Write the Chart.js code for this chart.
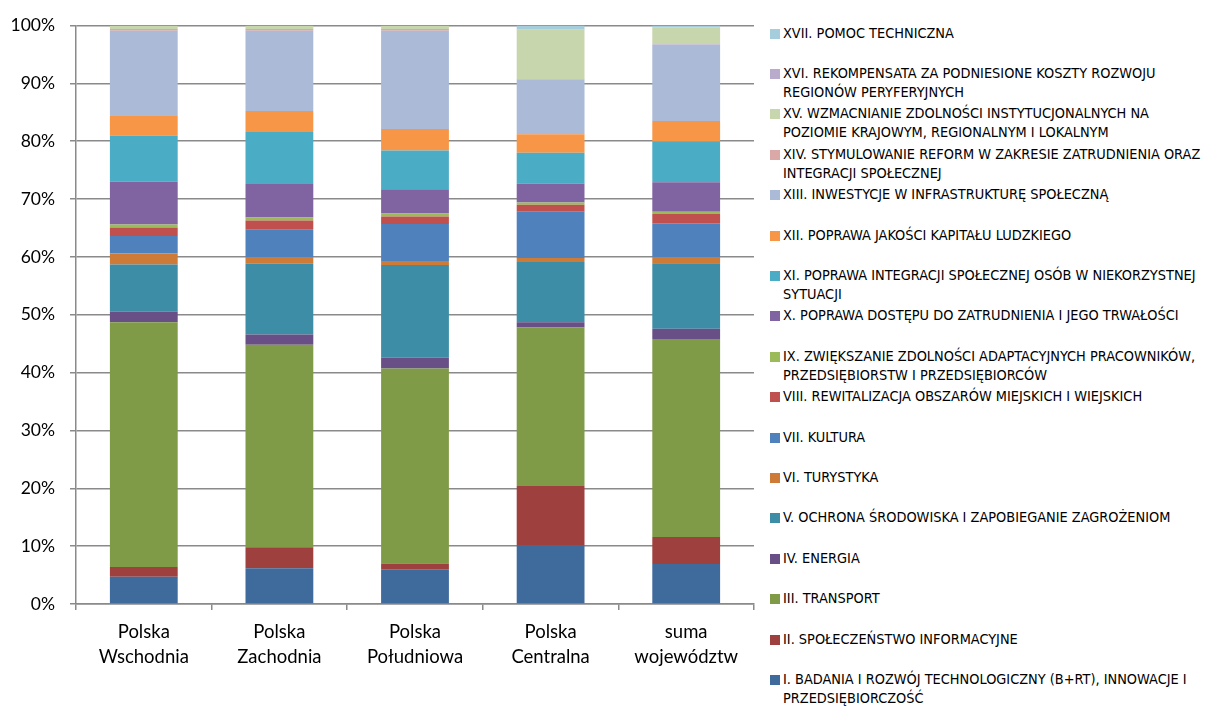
<!DOCTYPE html>
<html lang="pl">
<head>
<meta charset="utf-8">
<title>Struktura alokacji według priorytetów</title>
<script src="https://cdn.jsdelivr.net/npm/chart.js@4/dist/chart.umd.min.js"></script>
<style>
  html, body { margin: 0; padding: 0; background: #fff; }
  #wrap { position: relative; width: 1209px; height: 707px; overflow: hidden; }
  #chartBox { position: absolute; left: 0; top: 0; width: 760px; height: 707px; }
  #legend { position: absolute; left: 770px; top: 0; width: 439px; }
  .item { position: absolute; left: 0; display: flex; align-items: flex-start; }
  .swatch { width: 10px; height: 10px; margin-top: 5px; flex: none; }
  .text {
    margin-left: 3px; font-family: "Liberation Sans Narrow", "DejaVu Sans Condensed", Lato, sans-serif;
    font-size: 14.4px; line-height: 19px; color: #000; white-space: nowrap;
  }
</style>
</head>
<body>
<div id="wrap">
  <div id="chartBox"><canvas id="chart"></canvas></div>
  <div id="legend"></div>
</div>
<script>
// regions on the x axis
const categories = [
  ['Polska', 'Wschodnia'],
  ['Polska', 'Zachodnia'],
  ['Polska', 'Południowa'],
  ['Polska', 'Centralna'],
  ['suma', 'województw']
];

// priorities I..XVII (multi-line names as drawn in the legend)
const priorities = [
  ['I. BADANIA I ROZWÓJ TECHNOLOGICZNY (B+RT), INNOWACJE I', 'PRZEDSIĘBIORCZOŚĆ'],
  ['II. SPOŁECZEŃSTWO INFORMACYJNE'],
  ['III. TRANSPORT'],
  ['IV. ENERGIA'],
  ['V. OCHRONA ŚRODOWISKA I ZAPOBIEGANIE ZAGROŻENIOM'],
  ['VI. TURYSTYKA'],
  ['VII. KULTURA'],
  ['VIII. REWITALIZACJA OBSZARÓW MIEJSKICH I WIEJSKICH'],
  ['IX. ZWIĘKSZANIE ZDOLNOŚCI ADAPTACYJNYCH PRACOWNIKÓW,', 'PRZEDSIĘBIORSTW I PRZEDSIĘBIORCÓW'],
  ['X. POPRAWA DOSTĘPU DO ZATRUDNIENIA I JEGO TRWAŁOŚCI'],
  ['XI. POPRAWA INTEGRACJI SPOŁECZNEJ OSÓB W NIEKORZYSTNEJ', 'SYTUACJI'],
  ['XII. POPRAWA JAKOŚCI KAPITAŁU LUDZKIEGO'],
  ['XIII. INWESTYCJE W INFRASTRUKTURĘ SPOŁECZNĄ'],
  ['XIV. STYMULOWANIE REFORM W ZAKRESIE ZATRUDNIENIA ORAZ', 'INTEGRACJI SPOŁECZNEJ'],
  ['XV. WZMACNIANIE ZDOLNOŚCI INSTYTUCJONALNYCH NA', 'POZIOMIE KRAJOWYM, REGIONALNYM I LOKALNYM'],
  ['XVI. REKOMPENSATA ZA PODNIESIONE KOSZTY ROZWOJU', 'REGIONÓW PERYFERYJNYCH'],
  ['XVII. POMOC TECHNICZNA']
];

const colors = [
  '#3f6a9c', '#9e413e', '#7f9b48', '#684f86', '#3c8da5', '#cd7b37',
  '#4f81bd', '#c0504d', '#9bbb59', '#8064a2', '#4bacc6', '#f79646',
  '#aabad7', '#dba8a8', '#c7d6ad', '#b8abcb', '#a5cddc'
];

// share of each priority (%), I..XVII, per region
const wschodnia  = [4.7, 1.7, 42.3, 1.8, 8.2, 1.9, 3.0, 1.5, 0.5, 7.4, 8.0, 3.5, 14.6, 0.3, 0.5, 0.05, 0.05];
const zachodnia  = [6.2, 3.6, 35.0, 1.8, 12.2, 1.2, 4.7, 1.6, 0.5, 5.8, 9.0, 3.6, 13.9, 0.3, 0.5, 0.05, 0.05];
const poludniowa = [6.0, 1.0, 33.7, 1.9, 16.0, 0.7, 6.4, 1.3, 0.5, 4.2, 6.7, 3.7, 17.0, 0.3, 0.5, 0.05, 0.05];
const centralna  = [10.2, 10.2, 27.4, 0.9, 10.4, 0.7, 8.0, 1.2, 0.4, 3.3, 5.3, 3.2, 9.4, 0.1, 8.6, 0.1, 0.6];
const suma       = [6.9, 4.7, 34.2, 1.8, 11.3, 1.1, 5.8, 1.6, 0.4, 5.1, 7.1, 3.5, 13.2, 0.1, 2.9, 0.05, 0.25];

const yTicks = [0, 10, 20, 30, 40, 50, 60, 70, 80, 90, 100];

const regions = [wschodnia, zachodnia, poludniowa, centralna, suma];

const datasets = priorities.map((name, i) => ({
  label: name.join(' '),
  data: regions.map(r => r[i]),
  backgroundColor: colors[i],
  borderWidth: 0,
  barPercentage: 0.5,
  categoryPercentage: 1
}));

const gridColor = '#8a8a8a';

new Chart(document.getElementById('chart'), {
  type: 'bar',
  data: { labels: categories, datasets },
  options: {
    responsive: true,
    maintainAspectRatio: false,
    animation: false,
    layout: { padding: { top: 24, right: 6, left: 0, bottom: 0 } },
    plugins: { legend: { display: false }, tooltip: { enabled: false } },
    scales: {
      x: {
        stacked: true,
        grid: { offset: true, drawOnChartArea: false, drawTicks: true, tickLength: 6, color: gridColor, lineWidth: 1.5 },
        border: { color: gridColor, width: 1.5 },
        ticks: { color: '#000', font: { family: 'Lato, sans-serif', size: 18.5, lineHeight: 1.35 }, padding: 10, maxRotation: 0 },
        afterFit: s => { s.height = 103; }
      },
      y: {
        stacked: true,
        min: 0,
        max: 100,
        afterBuildTicks: s => { s.ticks = yTicks.map(v => ({ value: v })); },
        grid: { color: gridColor, lineWidth: 1.5, drawTicks: true, tickLength: 6 },
        border: { color: gridColor, width: 1.5 },
        ticks: { color: '#000', font: { family: 'Lato, sans-serif', size: 17.5 }, padding: 15, callback: v => v + '%' },
        afterFit: s => { s.width = 76; }
      }
    }
  }
});

// legend on the right, last priority on top
const legend = document.getElementById('legend');
const rowStep = 40.4;
priorities.slice().reverse().forEach((name, k) => {
  const i = priorities.length - 1 - k;
  const item = document.createElement('div');
  item.className = 'item';
  item.style.top = (33 - 9.5 + k * rowStep) + 'px';
  const sw = document.createElement('div');
  sw.className = 'swatch';
  sw.style.background = colors[i];
  const tx = document.createElement('div');
  tx.className = 'text';
  tx.innerHTML = name.join('<br>');
  item.appendChild(sw);
  item.appendChild(tx);
  legend.appendChild(item);
});
</script>
</body>
</html>
